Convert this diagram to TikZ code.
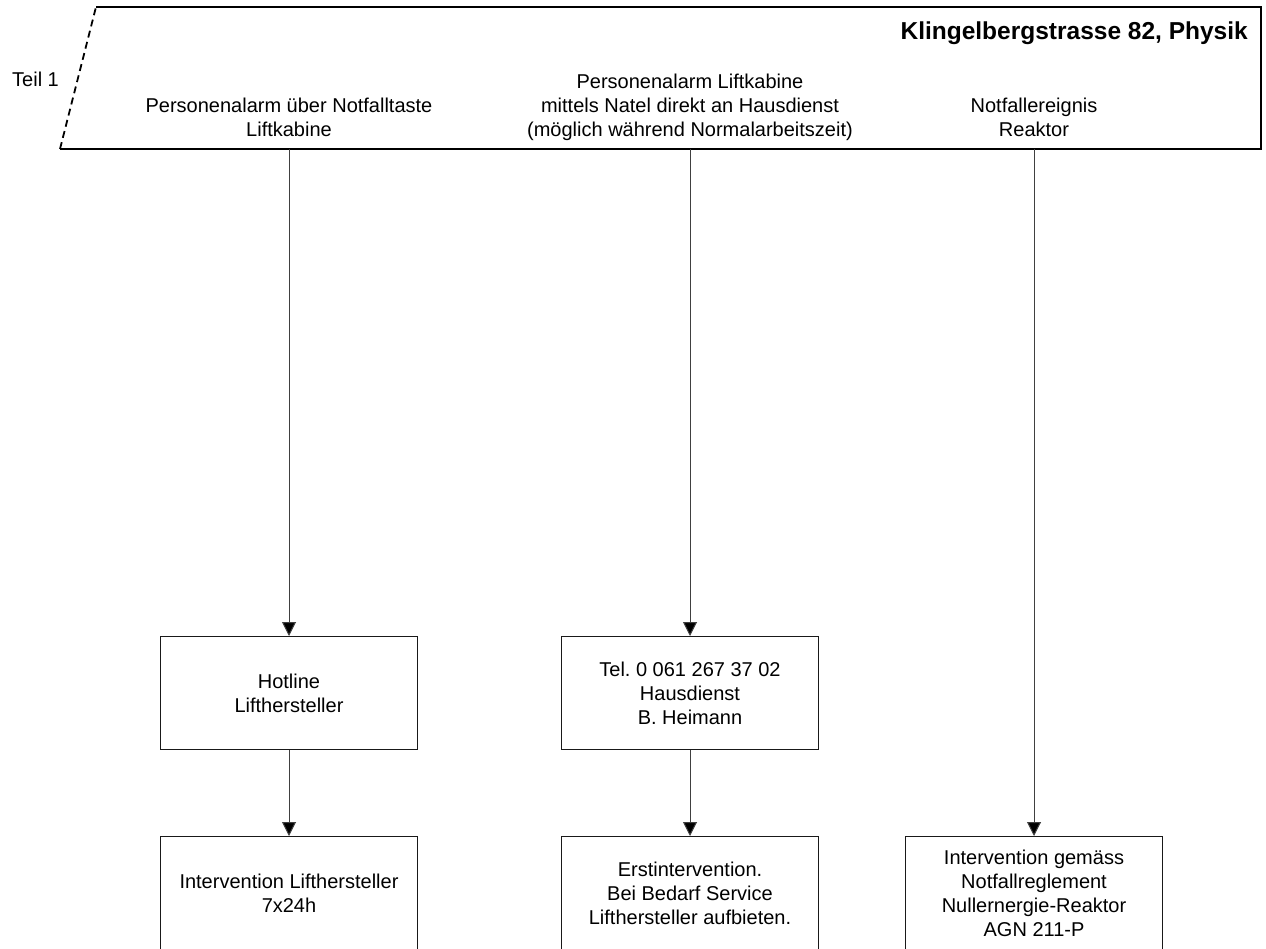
\documentclass[tikz,border=0pt]{standalone}
\usepackage{fontspec}
\setmainfont{Liberation Sans}
\usetikzlibrary{arrows.meta}
\frenchspacing
\begin{document}
\begin{tikzpicture}[x=1pt,y=-1pt,
  lbl/.style={font=\fontsize{20}{24}\selectfont, align=center, inner sep=0pt},
  head/.style={lbl, anchor=south, text depth=0pt},
  stepbox/.style={draw=black!90, line width=1pt, minimum width=257pt, minimum height=113pt, inner sep=0pt, lbl},
  flow/.style={draw=black!75, line width=1pt, -{Triangle[length=14pt,width=14pt,fill=black]}},
  frameline/.style={line width=1.8pt}
]
\useasboundingbox (0,0) rectangle (1266,949);

% header frame: solid on three sides, dashed slanted left side
\coordinate (tl) at (96,7);
\coordinate (tr) at (1261,7);
\coordinate (br) at (1261,149);
\coordinate (bl) at (60,149);
\draw[frameline, line join=miter] (tl) -- (tr) -- (br) -- (bl);
\draw[frameline, dash pattern=on 7pt off 4.5pt] (bl) -- (tl);

% header texts
\node[anchor=base east, inner sep=0pt, font=\fontsize{24.5}{29}\selectfont\bfseries] (title) at (1248,40) {Klingelbergstrasse 82, Physik};
\node[lbl, anchor=base west] (teil) at (12,87) {Teil 1};
\node[head] (h1) at (289,137) {Personenalarm über Notfalltaste\\Liftkabine};
\node[head] (h2) at (690,137) {Personenalarm Liftkabine\\mittels Natel direkt an Hausdienst\\(möglich während Normalarbeitszeit)};
\node[head] (h3) at (1034,137) {Notfallereignis\\Reaktor};

% connector origins on the lower edge of the header frame
\coordinate (o1) at (289,149);
\coordinate (o2) at (690,149);
\coordinate (o3) at (1034,149);

% boxes
\node[stepbox] (hot) at (289,693) {Hotline\\Lifthersteller};
\node[stepbox] (tel) at (690,693) {Tel. 0 061 267 37 02\\Hausdienst\\B. Heimann};
\node[stepbox] (intL) at (289,893) {Intervention Lifthersteller\\7x24h};
\node[stepbox] (erst) at (690,893) {Erstintervention.\\Bei Bedarf Service\\Lifthersteller aufbieten.};
\node[stepbox] (intR) at (1034,893) {Intervention gemäss\\Notfallreglement\\Nullernergie-Reaktor\\AGN 211-P};

% connectors
\draw[flow] (o1) -- (hot);
\draw[flow] (hot) -- (intL);
\draw[flow] (o2) -- (tel);
\draw[flow] (tel) -- (erst);
\draw[flow] (o3) -- (intR);
\end{tikzpicture}
\end{document}
